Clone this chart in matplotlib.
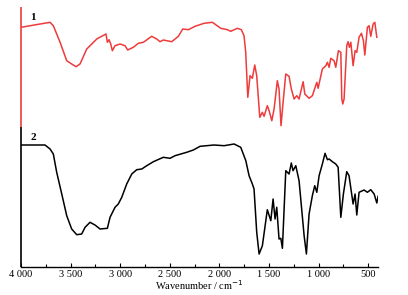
import matplotlib
matplotlib.use("Agg")
import matplotlib.pyplot as plt
from matplotlib.ticker import MultipleLocator, FixedLocator, FixedFormatter

# Spectrum 1 (red): wavenumber / cm-1 and relative transmittance (offset)
wn1 = [4000, 3707, 3674, 3607, 3539, 3489, 3445, 3405, 3337, 3236, 3143, 3129, 3112, 3095,
       3079, 3052, 3001, 2951, 2924, 2867, 2817, 2766, 2682, 2631, 2598, 2565, 2530, 2480,
       2413, 2369, 2312, 2245, 2154, 2070, 1986, 1919, 1885, 1818, 1778, 1751, 1734, 1713,
       1690, 1667, 1643, 1623, 1592, 1566, 1549, 1516, 1498, 1471, 1448, 1415, 1398, 1378,
       1354, 1330, 1297, 1274, 1246, 1219, 1196, 1155, 1138, 1095, 1062, 1017, 1004, 961,
       926, 910, 893, 876, 843, 826, 799, 775, 765, 755, 742, 715, 702, 688, 674, 651, 631,
       614, 591, 567, 547, 533, 507, 490, 473, 449, 432, 412]
t1 = [239.7, 244.7, 241.3, 225, 206.3, 203, 200.3, 203, 218, 228, 233, 224.7, 227.3, 223,
      216.3, 221.3, 223, 221.3, 217, 219.7, 223.7, 224.7, 230.7, 228, 225.3, 227, 226.3, 225.3,
      230.7, 238, 237.3, 240.7, 243.7, 244.7, 238.7, 237.3, 235.7, 238.7, 237.3, 231.3, 214.7, 169.7,
      191.3, 188.7, 202, 191.3, 149.7, 154.7, 150.7, 161.3, 156.3, 146.3, 158, 186.3, 178, 141.3,
      168, 193, 190.7, 178, 168, 171.3, 168, 185.3, 173, 168.7, 171.3, 184.7, 178.7, 198,
      201.3, 204.7, 199.7, 208.7, 206.3, 199.7, 216.3, 214.7, 168, 163, 168, 221.3, 225.3, 219.7, 224.7, 201.3, 216.3,
      214.7, 229.7, 233.7, 226.3, 212, 239.7, 241.3, 230.7, 243, 244.7, 229.7]

# Spectrum 2 (black)
wn2 = [4000, 3758, 3707, 3674, 3640, 3589, 3539, 3489, 3438, 3388, 3354, 3304, 3254, 3203,
       3129, 3102, 3052, 3019, 2984, 2934, 2883, 2833, 2782, 2732, 2665, 2565, 2497, 2447,
       2329, 2262, 2194, 2053, 1952, 1851, 1784, 1733, 1700, 1667, 1650, 1623, 1599, 1566,
       1516, 1481, 1458, 1438, 1421, 1398, 1380, 1364, 1330, 1297, 1274, 1257, 1229, 1196,
       1145, 1122, 1095, 1062, 1038, 1017, 994, 961, 934, 910, 893, 860, 826, 802, 775, 749,
       715, 692, 651, 631, 614, 591, 540, 507, 473, 439, 412, 399]
t2 = [122, 122, 118, 113, 94.7, 73, 51.3, 38, 32.3, 33, 39.7, 44.7, 42, 38,
      38.7, 49.7, 59.7, 63, 69.7, 83, 93, 97.3, 98, 101.3, 105.3, 109.7, 108.7, 111.3,
      114.7, 117, 120.7, 122, 121.3, 123, 119.7, 106.3, 91.3, 83, 78, 34.7, 13, 21.3,
      57.3, 46.3, 68, 48, 59.7, 28, 28.7, 18.7, 96.3, 93, 104, 96.3, 101.3, 86.3,
      31.3, 13, 53, 71.3, 81.3, 74.7, 91.3, 103, 113.7, 107.3, 108, 105.3, 103, 99.7, 49.7, 73,
      95.3, 91.3, 63, 73, 52, 74.7, 77, 74.7, 77.3, 73, 64, 70.7]

tick_vals = [4000, 3500, 3000, 2500, 2000, 1500, 1000, 500]
tick_labels = ["4 000", "3 500", "3 000", "2 500", "2 000", "1 500", "1 000", "500"]

serif = ["Liberation Serif", "DejaVu Serif"]
plt.rcParams['font.family'] = serif

fig = plt.figure(figsize=(4.08, 2.95), dpi=100)
ax = fig.add_axes([21/408, 28/295, 357/408, 260/295])

ax.plot(wn1, t1, color="#ee3b3b", lw=1.1)
ax.plot(wn2, t2, color="black", lw=1.1)

ax.set_xlim(4000, 400)
ax.set_ylim(0, 260)

for s in ["top", "right", "left"]:
    ax.spines[s].set_visible(False)
ax.spines["bottom"].set_linewidth(1.0)
split = 140
ax.plot([4000, 4000], [split, 260], color="#ee3b3b", lw=1.2, clip_on=False, solid_capstyle="butt")
ax.plot([4000, 4000], [0, split], color="black", lw=1.2, clip_on=False, solid_capstyle="butt")

ax.set_yticks([])
ax.xaxis.set_major_locator(FixedLocator(tick_vals))
ax.xaxis.set_major_formatter(FixedFormatter(tick_labels))
ax.xaxis.set_minor_locator(MultipleLocator(250))
ax.tick_params(axis="x", which="major", direction="in", length=3, width=0.8, labelsize=7.5, pad=2.5)
ax.tick_params(axis="x", which="minor", direction="in", length=2, width=0.8)
ax.set_xlabel("Wavenumber / cm$^{-1}$", fontsize=7.5, labelpad=-1)

ax.text(3879, 250, "1", fontsize=8, fontweight="bold", ha="center", va="center")
ax.text(3879, 129, "2", fontsize=8, fontweight="bold", ha="center", va="center")

fig.savefig("out.png", dpi=100)
